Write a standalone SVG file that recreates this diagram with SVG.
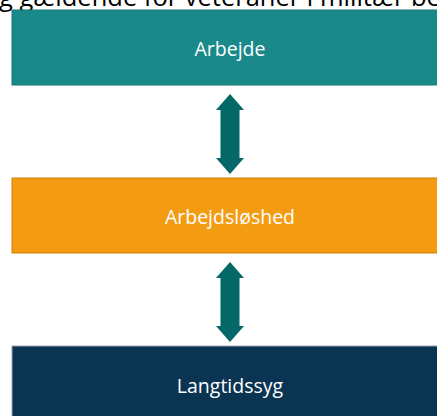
<svg xmlns="http://www.w3.org/2000/svg" width="437" height="416" viewBox="0 0 437 416">
<defs>
<style>
.lbl{font-family:"Open Sans","Liberation Sans",sans-serif;font-size:19.5px;fill:#ffffff;text-anchor:middle}
.title{font-family:"Open Sans","Liberation Sans",sans-serif;font-size:25.5px;fill:#000000}
.arr{fill:#046768}
</style>
</defs>
<rect width="437" height="416" fill="#ffffff"/>
<text class="title" x="-1" y="6">g gældende for veteraner i militær be</text>
<g id="node-arbejde">
<rect x="12" y="10" width="430" height="75" fill="#198989" stroke="#167777" stroke-width="1"/>
<text class="lbl" x="230" y="56">Arbejde</text>
</g>
<g id="node-arbejdsloshed">
<rect x="12" y="178" width="430" height="75" fill="#F39C12" stroke="#D0800C" stroke-width="1"/>
<text class="lbl" x="230" y="224">Arbejdsløshed</text>
</g>
<g id="node-langtidssyg">
<rect x="12" y="346" width="430" height="80" fill="#0B3352" stroke="#9aa3ab" stroke-width="1"/>
<text class="lbl" x="230" y="393">Langtidssyg</text>
</g>
<g id="connectors">
<path class="arr" d="M230,94 L244,110 L239.5,110 L239.5,158 L244,158 L230,174 L216,158 L220.5,158 L220.5,110 L216,110 Z"/>
<path class="arr" d="M230,262 L244,278 L239.5,278 L239.5,326 L244,326 L230,342 L216,326 L220.5,326 L220.5,278 L216,278 Z"/>
</g>
</svg>
